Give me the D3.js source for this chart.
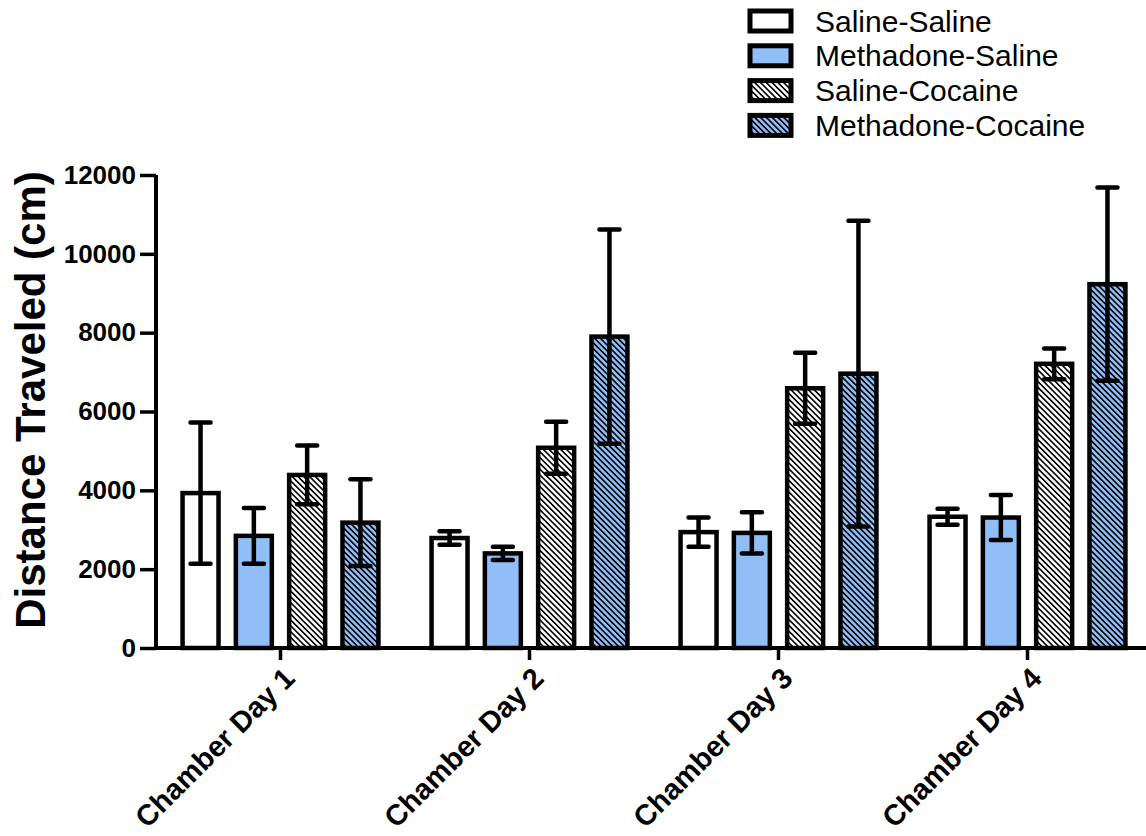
<!DOCTYPE html>
<html>
<head>
<meta charset="utf-8">
<script src="https://cdn.jsdelivr.net/npm/d3@7"></script>
<style>
  body { margin: 0; background: #fff; }
  text { font-family: "Liberation Sans", Arial, sans-serif; }
</style>
</head>
<body>
<script>
var width = 1146;
var height = 836;

// data
var days = ["Chamber Day 1", "Chamber Day 2", "Chamber Day 3", "Chamber Day 4"];
var groups = ["Saline-Saline", "Methadone-Saline", "Saline-Cocaine", "Methadone-Cocaine"];
var salineSaline = [3930, 2790, 2940, 3330];
var methadoneSaline = [2845, 2400, 2920, 3310];
var salineCocaine = [4390, 5080, 6590, 7210];
var methadoneCocaine = [3180, 7900, 6960, 9230];
var salineSalineErr = [1790, 170, 370, 200];
var methadoneSalineErr = [708, 168, 525, 570];
var salineCocaineErr = [745, 660, 900, 390];
var methadoneCocaineErr = [1100, 2720, 3880, 2450];
var yTicks = [0, 2000, 4000, 6000, 8000, 10000, 12000];

var means = [salineSaline, methadoneSaline, salineCocaine, methadoneCocaine];
var errs = [salineSalineErr, methadoneSalineErr, salineCocaineErr, methadoneCocaineErr];

var blue = "#90bff8";
var fills = ["#ffffff", blue, "url(#hatchWhite)", "url(#hatchBlue)"];

var svg = d3.select('body').append('svg')
        .attr('width', width)
        .attr('height', height);

// hatch patterns
var defs = svg.append('defs');
[["hatchWhite", "#ffffff"], ["hatchBlue", blue]].forEach(function(p) {
    var pat = defs.append('pattern')
        .attr('id', p[0])
        .attr('patternUnits', 'userSpaceOnUse')
        .attr('width', 4.1)
        .attr('height', 4.1)
        .attr('patternTransform', 'rotate(-45)');
    pat.append('rect').attr('width', 4.1).attr('height', 4.1).attr('fill', p[1]);
    pat.append('rect').attr('width', 1.6).attr('height', 4.1).attr('fill', '#000');
});

var x0 = d3.scaleBand().domain(days).range([156, 1152]);
var x1 = d3.scaleBand().domain(groups)
        .range([-106.6, 106.6])
        .paddingInner(0.25)
        .paddingOuter(0.125);
var y = d3.scaleLinear().domain([0, 12000]).range([648, 175]);

var rows = [];
days.forEach(function(day, i) {
    groups.forEach(function(g, j) {
        rows.push({day: day, group: g, j: j, mean: means[j][i], err: errs[j][i]});
    });
});

function cx(d) {
    return x0(d.day) + x0.bandwidth() / 2 + x1(d.group) + x1.bandwidth() / 2;
}

// bars
svg.append('g').selectAll('rect')
    .data(rows)
    .enter().append('rect')
    .attr('x', function(d) { return cx(d) - (x1.bandwidth() - 4) / 2; })
    .attr('y', function(d) { return y(d.mean); })
    .attr('width', x1.bandwidth() - 4)
    .attr('height', function(d) { return y(0) - y(d.mean); })
    .attr('fill', function(d) { return fills[d.j]; })
    .attr('stroke', '#000')
    .attr('stroke-width', 4.5);

// error bars
var eb = svg.append('g')
    .attr('stroke', '#000')
    .attr('stroke-width', 4.5)
    .attr('stroke-linecap', 'round');
eb.selectAll('.stem')
    .data(rows)
    .enter().append('line')
    .attr('x1', cx).attr('x2', cx)
    .attr('y1', function(d) { return y(d.mean + d.err); })
    .attr('y2', function(d) { return y(d.mean - d.err); })
    .attr('stroke-linecap', 'butt');
eb.selectAll('.capTop')
    .data(rows)
    .enter().append('line')
    .attr('x1', function(d) { return cx(d) - 10; })
    .attr('x2', function(d) { return cx(d) + 10; })
    .attr('y1', function(d) { return y(d.mean + d.err); })
    .attr('y2', function(d) { return y(d.mean + d.err); });
eb.selectAll('.capBot')
    .data(rows)
    .enter().append('line')
    .attr('x1', function(d) { return cx(d) - 10; })
    .attr('x2', function(d) { return cx(d) + 10; })
    .attr('y1', function(d) { return y(d.mean - d.err); })
    .attr('y2', function(d) { return y(d.mean - d.err); });

// y axis
var yAxis = svg.append('g')
    .attr('transform', 'translate(156,0)')
    .call(d3.axisLeft(y).tickValues(yTicks).tickSize(16).tickPadding(4).tickFormat(d3.format('d')));
yAxis.select('.domain').attr('stroke-width', 4).attr('d', 'M0,175V648');
yAxis.selectAll('.tick line').attr('stroke-width', 3.5);
yAxis.selectAll('.tick text')
    .attr('font-size', 26)
    .attr('font-weight', 'bold')
    .attr('fill', '#000');

// x axis
var xAxis = svg.append('g')
    .attr('transform', 'translate(0,648)')
    .call(d3.axisBottom(x0).tickSize(12).tickSizeOuter(0));
xAxis.select('.domain').attr('stroke-width', 4).attr('d', 'M154,0H1146');
xAxis.selectAll('.tick line').attr('stroke-width', 3.5);
xAxis.selectAll('.tick text')
    .attr('font-size', 29)
    .attr('font-weight', 'bold')
    .attr('fill', '#000')
    .attr('text-anchor', 'end')
    .attr('y', 0)
    .attr('dy', 0)
    .attr('transform', 'translate(16,32) rotate(-45)');

// y title
svg.append('text')
    .text('Distance Traveled (cm)')
    .attr('text-anchor', 'middle')
    .attr('font-size', 42)
    .attr('font-weight', 'bold')
    .attr('transform', 'translate(45,400) rotate(-90)');

// legend
var legend = svg.append('g').selectAll('g')
    .data(groups)
    .enter().append('g')
    .attr('transform', function(d, i) { return 'translate(750,' + (21 + i * 34.8) + ')'; });
legend.append('rect')
    .attr('x', 0)
    .attr('y', -10)
    .attr('width', 41)
    .attr('height', 20)
    .attr('fill', function(d, i) { return fills[i]; })
    .attr('stroke', '#000')
    .attr('stroke-width', 5);
legend.append('text')
    .text(function(d) { return d; })
    .attr('x', 65)
    .attr('y', 10.5)
    .attr('font-size', 30);
</script>
</body>
</html>
